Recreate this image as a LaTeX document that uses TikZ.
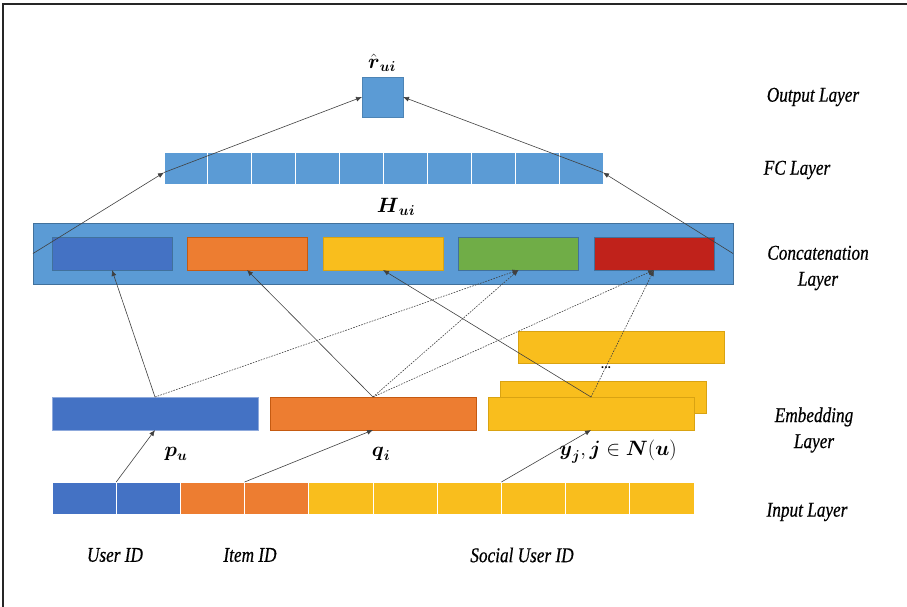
\documentclass[tikz,border=0pt]{standalone}
\usepackage{amsmath}
\usepackage{fontspec}
\setmainfont{Carlito}
\newfontfamily\labfont[FakeBold=0.6]{Liberation Serif}
\usetikzlibrary{arrows.meta,calc}
\definecolor{lblue}{HTML}{5B9BD5}
\definecolor{dblue}{HTML}{4472C4}
\definecolor{bord}{HTML}{41719C}
\definecolor{orng}{HTML}{ED7D31}
\definecolor{orngb}{HTML}{C55A11}
\definecolor{gold}{HTML}{F9BE1D}
\definecolor{goldb}{HTML}{D9A312}
\definecolor{grn}{HTML}{70AD47}
\definecolor{rd}{HTML}{C0221B}
\tikzset{
  box/.style={draw, line width=0.8pt, inner sep=0pt, outer sep=0pt},
  cell/.style={draw=white, line width=1pt, inner sep=0pt, outer sep=0pt, minimum height=32pt},
  conn/.style={draw=black!75, line width=0.6pt, -{Latex[length=6pt,width=5pt]}},
  dconn/.style={conn, dash pattern=on 1.6pt off 1.2pt},
  laylab/.style={font=\labfont\fontsize{21}{26}\selectfont\itshape, align=center, xscale=0.82},
  mlab/.style={font=\fontsize{21}{22}\selectfont}
}
\begin{document}
\begin{tikzpicture}[x=1pt,y=-1pt]
\useasboundingbox (0,0) rectangle (907,607);
% frame
\draw[line width=2pt, black!85] (907,4) -- (3,4) -- (3,607);

% output layer
\node[box, fill=lblue, draw=lblue!85!black, line width=0.6pt, minimum width=41pt, minimum height=40pt] (out) at (382.5,97) {};
\node[mlab] (rlab) at (382,63) {$\hat{\boldsymbol{r}}_{\boldsymbol{ui}}$};

% FC layer
\foreach \i in {1,...,10} {
  \node[cell, fill=lblue, minimum width=43.9pt] (fc\i) at ({164+43.9*(\i-0.5)},168.5) {};
}
\coordinate (fcL) at ($(fc1.west)+(0,4)$);
\coordinate (fcR) at ($(fc10.east)+(0,4)$);
\node[mlab] (hlab) at (396,207) {$\boldsymbol{H}_{\boldsymbol{ui}}$};

% Concatenation layer
\node[box, fill=lblue, draw=bord, line width=0.6pt, minimum width=700pt, minimum height=61pt] (cat) at (383,253.5) {};
\node[box, fill=dblue, draw=bord, minimum width=120pt, minimum height=33pt] (cblue) at (112,253.5) {};
\node[box, fill=orng, draw=orngb, minimum width=120pt, minimum height=33pt] (corange) at (247,253.5) {};
\node[box, fill=gold, draw=goldb, minimum width=120pt, minimum height=33pt] (cyellow) at (383,253.5) {};
\node[box, fill=grn, draw=bord, minimum width=120pt, minimum height=33pt] (cgreen) at (518.5,253.5) {};
\node[box, fill=rd, draw=bord, minimum width=120pt, minimum height=33pt] (cred) at (654,253.5) {};

% Embedding layer
\node[box, fill=gold, draw=goldb, minimum width=206pt, minimum height=32pt] (ytop) at (621,347) {};
\node[font=\fontsize{13}{13}\selectfont\bfseries] (dots) at (606,368) {...};
\node[box, fill=gold, draw=goldb, minimum width=206pt, minimum height=32pt] (ymid) at (603,397) {};
\node[box, fill=dblue, draw=dblue!60!white, minimum width=206pt, minimum height=33pt] (pu) at (155,413.5) {};
\node[box, fill=orng, draw=orngb, minimum width=206pt, minimum height=33pt] (qi) at (373,413.5) {};
\node[box, fill=gold, draw=goldb, minimum width=206pt, minimum height=33pt] (yj) at (591,413.5) {};
\node[mlab] (pulab) at (176,454) {$\boldsymbol{p}_{\boldsymbol{u}}$};
\node[mlab] (qilab) at (381,454) {$\boldsymbol{q}_{\boldsymbol{i}}$};
\node[mlab] (yjlab) at (618,452) {$\boldsymbol{y}_{\boldsymbol{j}}, \boldsymbol{j}\in \boldsymbol{N}(\boldsymbol{u})$};

% Input layer
\foreach \i/\c in {1/dblue,2/dblue,3/orng,4/orng,5/gold,6/gold,7/gold,8/gold,9/gold,10/gold} {
  \node[cell, fill=\c, minimum width=64.2pt] (in\i) at ({52+64.2*(\i-0.5)},498) {};
}

% bottom labels
\node[laylab] (uid) at (115,555) {User ID};
\node[laylab] (iid) at (250,555) {Item ID};
\node[laylab] (sid) at (522,555) {Social User ID};

% layer labels
\node[laylab] (l1) at (813,97) {Output Layer};
\node[laylab] (l2) at (797,170) {FC Layer};
\node[laylab] (l3) at (818,268) {Concatenation\\Layer};
\node[laylab] (l4) at (814,430) {Embedding\\Layer};
\node[laylab] (l5) at (807,512) {Input Layer};

% connectors: input -> embedding
\draw[conn] (in1.north east) -- (pu.south);
\draw[conn] (in3.north east) -- (qi.south);
\draw[conn] (in7.north east) -- (yj.south);

% embedding -> concatenation
\draw[conn] (pu.north) -- (cblue.south);
\draw[conn] (qi.north) -- (corange.south);
\draw[conn] (yj.north) -- (cyellow.south);
\draw[dconn] (pu.north) -- (cgreen.south);
\draw[dconn] (qi.north) -- (cgreen.south);
\draw[dconn] (qi.north) -- (cred.south);
\draw[dconn] (yj.north) -- (cred.south);

% concatenation -> FC -> output
\draw[conn] (cat.west) -- (fcL);
\draw[conn] (cat.east) -- (fcR);
\draw[conn] (fcL) -- (out.west);
\draw[conn] (fcR) -- (out.east);
\end{tikzpicture}
\end{document}
